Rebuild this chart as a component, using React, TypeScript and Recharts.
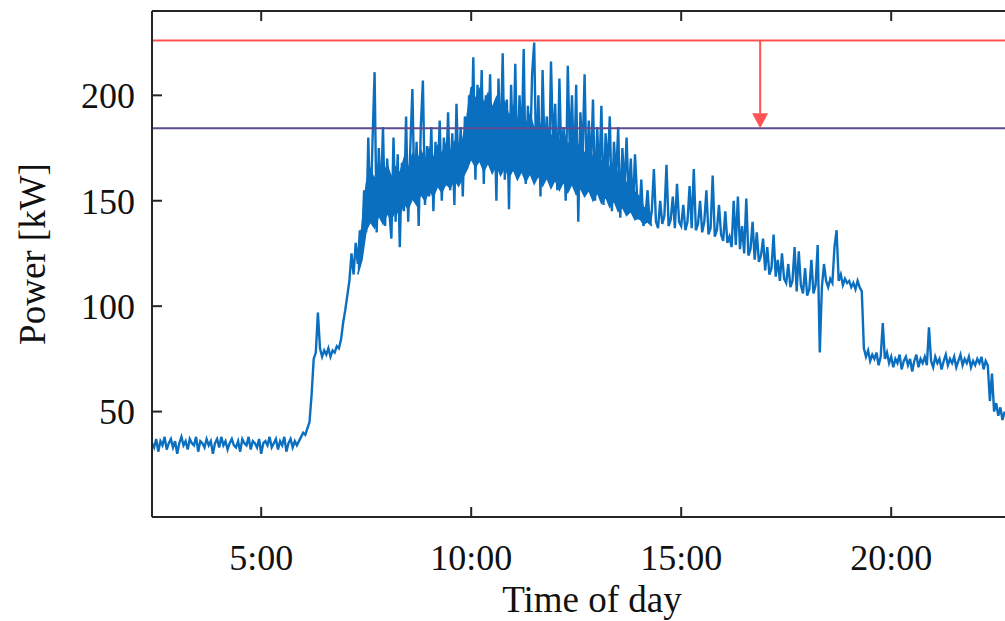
import { Area, ComposedChart, Line, ReferenceLine, XAxis, YAxis } from "recharts";

// sampled every 3 minutes, starting at 2:24
const START_HOUR = 2.4;
const STEP_HOUR = 0.05;

// 2:24 – 6:15, base load
const night = [
  35, 33, 37, 31, 36, 34, 38, 32, 35, 37,
  33, 36, 30, 35, 38, 34, 36, 32, 37, 35,
  34, 38, 31, 36, 35, 33, 37, 34, 36, 30,
  35, 37, 33, 38, 34, 36, 32, 35, 37, 34,
  33, 36, 31, 37, 35, 34, 38, 32, 36, 35,
  33, 37, 30, 35, 36, 34, 38, 33, 35, 37,
  32, 36, 34, 38, 31, 35, 37, 33, 36, 34,
  36, 38, 40, 39, 42, 45,
];

// 6:12 – 9:57, ramp up
const morning = [
  58, 75, 78, 97, 80, 76, 79, 77, 80, 76,
  79, 78, 81, 80, 84, 92, 98, 105, 112, 125,
  115, 130, 120, 136, 128, 155, 135, 180, 140, 178,
  211, 135, 175, 150, 185, 138, 170, 145, 132, 180,
  140, 172, 128, 168, 145, 190, 140, 175, 203, 150,
  178, 138, 185, 207, 148, 176, 152, 185, 145, 178,
  158, 188, 150, 180, 160, 192, 155, 182, 148, 196,
  160, 185, 152, 190, 165, 200,
];

// 10:00 – 13:57, peak
const midday = [
  170, 218, 160, 205, 175, 212, 158, 200, 168, 210,
  165, 195, 150, 208, 172, 220, 160, 198, 146, 205,
  170, 215, 162, 200, 175, 222, 158, 195, 168, 210,
  225, 165, 200, 152, 212, 170, 190, 160, 216, 175,
  196, 155, 208, 168, 185, 150, 214, 172, 200, 162,
  205, 140, 192, 170, 210, 158, 188, 165, 198, 150,
  185, 160, 195, 148, 182, 165, 190, 145, 178, 160,
  185, 142, 175, 155, 180, 150, 170, 145, 172, 152,
];

// 14:00 – 19:18, slow decline with frequent short spikes
const afternoon = [
  141, 160, 138, 143, 155, 139, 145, 165, 140, 137,
  150, 139, 143, 167, 138, 141, 152, 137, 158, 140,
  138, 148, 136, 140, 157, 137, 165, 136, 139, 150,
  135, 140, 155, 134, 137, 162, 133, 136, 148, 134,
  131, 145, 130, 133, 128, 150, 129, 152, 127, 138,
  125, 151, 124, 127, 140, 122, 135, 121, 124, 132,
  117, 128, 115, 118, 134, 114, 122, 112, 125, 113,
  111, 120, 109, 112, 128, 107, 126, 110, 106, 118,
  105, 108, 122, 106, 110, 129, 78, 109, 120, 112,
  109, 113, 111, 128, 136, 112, 115, 110, 113, 111,
  112, 109, 111, 108, 112, 109, 107,
];

// 19:21 – 22:42
const evening = [
  80, 76, 79, 74, 77, 75, 78, 72, 76, 92,
  75, 78, 73, 76, 71, 75, 73, 77, 70, 74,
  76, 72, 75, 69, 74, 77, 71, 75, 73, 76,
  72, 90, 74, 71, 76, 73, 75, 70, 74, 77,
  72, 75, 73, 76, 71, 74, 77, 72, 75, 73,
  76, 71, 74, 72, 75, 73, 76, 70, 74, 72,
  55, 68, 50, 54, 48, 52, 46, 50,
];

// dense core of the noisy daytime band, every 6 minutes from 7:18
const CORE_START = 7.3;
const CORE_STEP = 0.1;
const coreLow = [
  115, 122, 136, 140, 137, 143, 139, 144, 141, 146,
  143, 149, 146, 151, 148, 153, 150, 155, 152, 157,
  154, 158, 156, 160, 157, 161, 165, 170, 166, 169,
  164, 168, 163, 167, 162, 166, 161, 165, 160, 164,
  159, 163, 158, 162, 157, 161, 156, 160, 155, 159,
  154, 158, 153, 156, 152, 155, 150, 154, 149, 152,
  147, 150, 145, 147, 143, 145, 141, 142, 139, 140,
  138,
];
const coreHigh = [
  125, 138, 158, 165, 160, 168, 162, 167, 161, 166,
  163, 170, 165, 172, 167, 174, 169, 175, 170, 176,
  172, 177, 173, 178, 174, 179, 190, 204, 198, 203,
  196, 201, 194, 199, 192, 197, 190, 195, 188, 193,
  186, 191, 184, 189, 182, 186, 180, 185, 178, 183,
  176, 181, 174, 178, 172, 176, 170, 174, 168, 172,
  165, 168, 162, 164, 158, 160, 154, 152, 147, 146,
  142,
];

const X_TICKS = [5, 10, 15, 20];
const Y_TICKS = [50, 100, 150, 200];
const PEAK_LIMIT = 226;
const SHAVED_LIMIT = 184.4;
const ARROW_HOUR = 16.88;

const power = [...night, ...morning, ...midday, ...afternoon, ...evening];
const data = power.map((p, i) => ({ t: START_HOUR + i * STEP_HOUR, p }));
const coreData = coreLow.map((lo, i) => ({ t: CORE_START + i * CORE_STEP, core: [lo, coreHigh[i]] }));

const FONT = '"Liberation Serif", "Times New Roman", serif';
const AXIS = "#262626";
const BLUE = "#0b6fc0";
const TICK_FONT = { fontSize: 36, fill: "#111", fontFamily: FONT };

function Arrow(props: any) {
  const { x1, y1, x2, y2 } = props;
  const head = 15;
  return (
    <g>
      <line x1={x1} y1={y1} x2={x2} y2={y2 - head} stroke="#ff5252" strokeWidth={2} />
      <polygon points={`${x2 - 8},${y2 - head} ${x2 + 8},${y2 - head} ${x2},${y2}`} fill="#ff5252" />
    </g>
  );
}

export default function App() {
  return (
    <div style={{ position: "absolute", left: 0, top: 0 }}>
      <ComposedChart width={1005} height={621} data={data} margin={{ top: 10, right: 0, bottom: 44, left: 92 }}>
        <XAxis
          xAxisId="top"
          orientation="top"
          type="number"
          dataKey="t"
          domain={[2.4, 22.71]}
          allowDataOverflow
          ticks={X_TICKS}
          height={1}
          tickSize={-10}
          tick={() => <g />}
          stroke={AXIS}
          strokeWidth={2}
        />
        <XAxis
          type="number"
          dataKey="t"
          domain={[2.4, 22.71]}
          allowDataOverflow
          ticks={X_TICKS}
          tickFormatter={(h) => `${h}:00`}
          height={60}
          tickSize={-10}
          tickMargin={37}
          tick={TICK_FONT}
          stroke={AXIS}
          strokeWidth={2}
        />
        <YAxis
          domain={[0, 240]}
          ticks={Y_TICKS}
          width={60}
          tickSize={-10}
          tickMargin={27}
          tick={TICK_FONT}
          stroke={AXIS}
          strokeWidth={2}
        />
        <Area
          data={coreData}
          dataKey="core"
          type="linear"
          stroke={BLUE}
          strokeWidth={1.5}
          fill={BLUE}
          fillOpacity={1}
          isAnimationActive={false}
        />
        <Line
          dataKey="p"
          type="linear"
          stroke={BLUE}
          strokeWidth={2.4}
          dot={false}
          isAnimationActive={false}
        />
        <ReferenceLine y={PEAK_LIMIT} stroke="#ff5252" strokeWidth={2} />
        <ReferenceLine y={SHAVED_LIMIT} stroke="#5e4b8f" strokeWidth={2} />
        <ReferenceLine
          segment={[
            { x: ARROW_HOUR, y: PEAK_LIMIT },
            { x: ARROW_HOUR, y: SHAVED_LIMIT },
          ]}
          shape={Arrow}
        />
        <text
          x={45}
          y={254}
          transform="rotate(-90, 45, 254)"
          textAnchor="middle"
          fontSize={37}
          fontFamily={FONT}
          fill="#111"
        >
          Power [kW]
        </text>
        <text x={592} y={612} textAnchor="middle" fontSize={37} fontFamily={FONT} fill="#111">
          Time of day
        </text>
      </ComposedChart>
    </div>
  );
}
